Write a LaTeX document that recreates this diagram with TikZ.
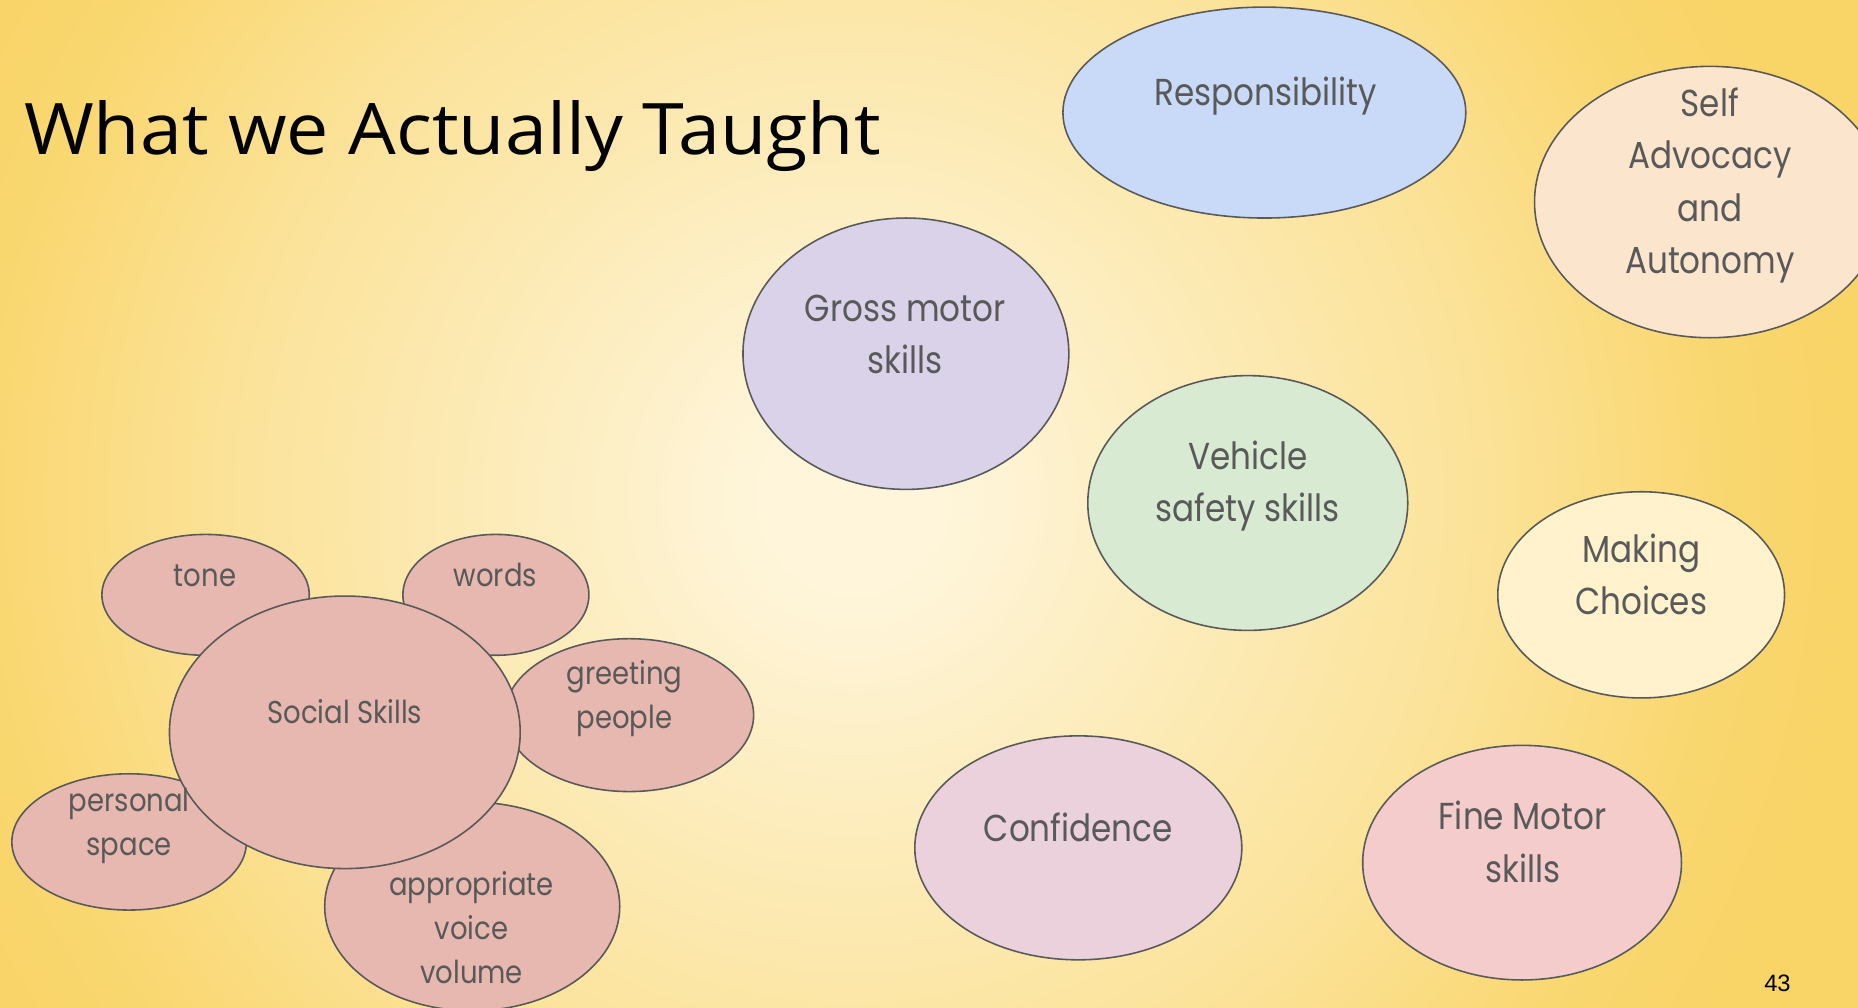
\documentclass[tikz,border=0pt]{standalone}
\usepackage{fontspec}
\usetikzlibrary{shapes.geometric}
\newfontfamily\labelfont[FakeStretch=0.87]{Poppins}
\newfontfamily\titlefont[FakeStretch=1.06]{Open Sans}
\newfontfamily\numfont{Liberation Sans}

\definecolor{glowin}{HTML}{FEF5DA}
\definecolor{glowout}{HTML}{F9D466}
\colorlet{glowA}{glowout!22!glowin}
\colorlet{glowB}{glowout!57!glowin}
\colorlet{glowC}{glowout!90!glowin}
\definecolor{edge}{HTML}{595959}
\definecolor{ink}{HTML}{595959}
\definecolor{blueF}{HTML}{C9DAF8}
\definecolor{peachF}{HTML}{FCE5CD}
\definecolor{lilacF}{HTML}{D9D2E9}
\definecolor{greenF}{HTML}{D9EAD3}
\definecolor{creamF}{HTML}{FFF2CC}
\definecolor{pinkF}{HTML}{EAD1DC}
\definecolor{roseF}{HTML}{F4CCCC}
\definecolor{socialF}{HTML}{E6B8AF}

% warm glow: the path's box maps to the central +-25bp, so 25bp is the circle's rim
\pgfdeclareradialshading{glow}{\pgfpointorigin}{%
  color(0bp)=(glowin); color(2bp)=(glowin); color(6.25bp)=(glowA);
  color(13.25bp)=(glowB); color(18bp)=(glowC); color(21.25bp)=(glowout);
  color(25bp)=(glowout); color(50bp)=(glowout)}

\tikzset{
  bubble/.style={ellipse, draw=edge, line width=0.8pt, inner sep=0pt},
  biglabel/.style={text=ink, align=center, inner sep=0pt,
    font=\labelfont\fontsize{19}{26.4}\selectfont},
  smalllabel/.style={text=ink, align=center, inner sep=0pt,
    font=\labelfont\fontsize{16}{22.2}\selectfont},
}

\begin{document}
\begin{tikzpicture}[x=0.6pt, y=-0.6pt]
  \useasboundingbox (0,0) rectangle (1568,850);

  % background glow
  \begin{scope}
    \clip (0,0) rectangle (1568,850);
    \fill[glowout] (0,0) rectangle (1568,850);
    \shade[shading=glow] (720,420) circle [radius=1000];
  \end{scope}

  % title and slide number
  \node[anchor=base west, inner sep=0pt, font=\titlefont\fontsize{36}{40}\selectfont]
    (title) at (20,130) {What we Actually Taught};
  \node[inner sep=0pt, font=\numfont\fontsize{12}{14}\selectfont] (pagenum) at (1500,830) {43};

  % free-standing topics
  \node[bubble, fill=blueF,  minimum width=204pt,   minimum height=106.8pt] (resp)    at (1067,95)    {};
  \node[bubble, fill=peachF, minimum width=177.6pt, minimum height=137.4pt] (self)    at (1443,170.5) {};
  \node[bubble, fill=lilacF, minimum width=165pt,   minimum height=137.4pt] (gross)   at (764.5,298.5){};
  \node[bubble, fill=greenF, minimum width=162pt,   minimum height=129pt]   (vehicle) at (1053,424.5) {};
  \node[bubble, fill=creamF, minimum width=145.2pt, minimum height=104.4pt] (choices) at (1385,502)   {};
  \node[bubble, fill=pinkF,  minimum width=165.6pt, minimum height=113.4pt] (conf)    at (910,715.5)  {};
  \node[bubble, fill=roseF,  minimum width=161.4pt, minimum height=118.8pt] (fine)    at (1284.5,728) {};

  % social skills cluster
  \node[bubble, fill=socialF, minimum width=105pt,   minimum height=61.2pt]  (tone)     at (173.5,502)  {};
  \node[bubble, fill=socialF, minimum width=94.2pt,  minimum height=61.2pt]  (words)    at (418.5,502)  {};
  \node[bubble, fill=socialF, minimum width=126pt,   minimum height=77.4pt]  (greeting) at (531,603.5)  {};
  \node[bubble, fill=socialF, minimum width=118.8pt, minimum height=69pt]    (personal) at (109,710.5)  {};
  \node[bubble, fill=socialF, minimum width=149.4pt, minimum height=105.6pt] (voice)    at (398.5,765)  {};
  \node[bubble, fill=socialF, minimum width=177.6pt, minimum height=138pt]   (social)   at (291,618)    {};

  % labels
  \node[biglabel] (respT)    at (1068,81)    {Responsibility};
  \node[biglabel] (selfT)    at (1443,156.5) {Self\\Advocacy\\and\\Autonomy};
  \node[biglabel] (grossT)   at (764,282)    {Gross motor\\skills};
  \node[biglabel] (vehicleT) at (1053,410.5) {Vehicle\\safety skills};
  \node[biglabel] (choicesT) at (1385,485)   {Making\\Choices};
  \node[biglabel] (confT)    at (910,698)    {Confidence};
  \node[biglabel] (fineT)    at (1285,710.5) {Fine Motor\\skills};

  \node[smalllabel] (toneT)     at (173,486)   {tone};
  \node[smalllabel] (wordsT)    at (418,485.5) {words};
  \node[smalllabel] (greetingT) at (527,589.5) {greeting\\people};
  \node[smalllabel] (socialT)   at (291,600.5) {Social Skills};
  \node[smalllabel] (personalT) at (109,697)   {personal\\space};
  \node[smalllabel] (voiceT)    at (398,783)   {appropriate\\voice\\volume};
\end{tikzpicture}
\end{document}
